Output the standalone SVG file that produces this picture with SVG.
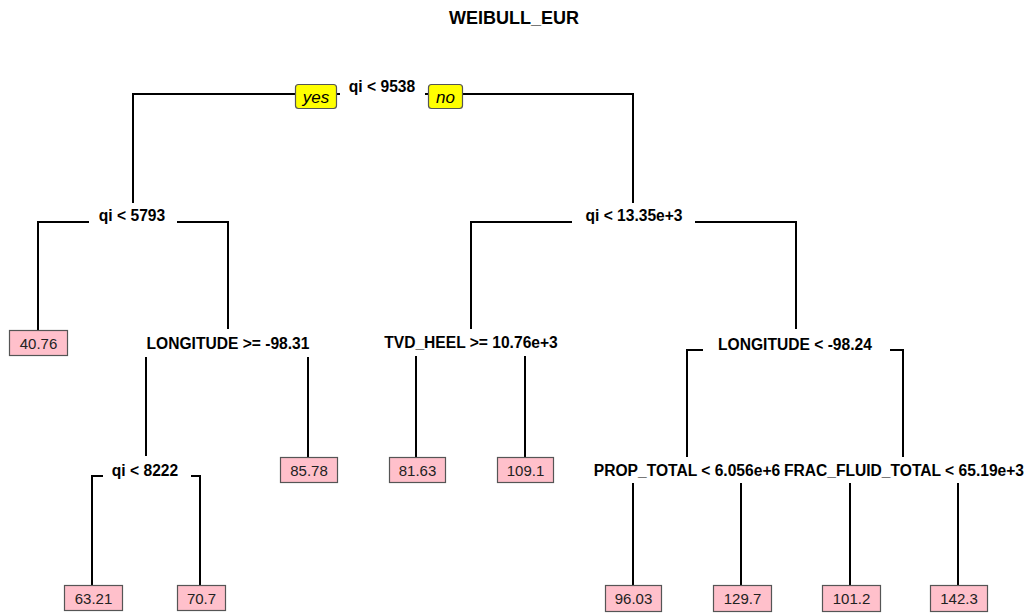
<svg xmlns="http://www.w3.org/2000/svg" width="1031" height="613" viewBox="0 0 1031 613">
<style>
.title{font-family:"Liberation Sans",Arial,sans-serif;font-weight:bold;font-size:18px;fill:#000;text-anchor:middle}
.split{font-family:"Liberation Sans",Arial,sans-serif;font-weight:bold;font-size:15.6px;fill:#000;text-anchor:middle}
.leaf rect{fill:#FFC0CB;stroke:#555;stroke-width:1.2}
.leaf text{font-family:"Liberation Sans",Arial,sans-serif;font-size:15px;fill:#222;text-anchor:middle}
.yn rect{fill:#FFFF00;stroke:#555;stroke-width:1.2}
.yn text{font-family:"Liberation Sans",Arial,sans-serif;font-style:italic;font-size:17px;fill:#000;text-anchor:middle}
#connectors path{fill:none;stroke:#000;stroke-width:2}
</style>
<rect width="1031" height="613" fill="#fff"/>
<text class="title" x="514" y="24">WEIBULL_EUR</text>
<g id="connectors">
<path d="M133,203 V94 H296"/>
<path d="M336,94 H340"/>
<path d="M425,94 H429"/>
<path d="M462,94 H633 V203"/>
<path d="M38,330 V222 H89"/>
<path d="M177,222 H228 V329"/>
<path d="M146,357 V456"/>
<path d="M308,357 V457"/>
<path d="M471,329 V222 H572"/>
<path d="M695,222 H796 V329"/>
<path d="M416,356 V457"/>
<path d="M525,356 V457"/>
<path d="M687,457 V350 H703"/>
<path d="M890,350 H903 V457"/>
<path d="M92,585 V476 H103"/>
<path d="M191,476 H200 V585"/>
<path d="M633,483 V585"/>
<path d="M741,483 V585"/>
<path d="M850,483 V585"/>
<path d="M958,483 V585"/>
</g>
<g id="yes" class="yn"><rect x="295.5" y="84.5" width="41" height="24" rx="3"/><text x="316" y="102.5">yes</text></g>
<g id="no" class="yn"><rect x="428.5" y="84.5" width="34" height="24" rx="3"/><text x="445.5" y="102.5">no</text></g>
<g id="n1"><text class="split" x="382" y="92">qi &lt; 9538</text></g>
<g id="n2"><text class="split" x="132" y="221">qi &lt; 5793</text></g>
<g id="n3"><text class="split" x="634" y="221">qi &lt; 13.35e+3</text></g>
<g id="n5"><text class="split" x="228" y="349">LONGITUDE &gt;= -98.31</text></g>
<g id="n6"><text class="split" x="471" y="348">TVD_HEEL &gt;= 10.76e+3</text></g>
<g id="n7"><text class="split" x="795" y="350">LONGITUDE &lt; -98.24</text></g>
<g id="n10"><text class="split" x="145" y="476">qi &lt; 8222</text></g>
<g id="n14"><text class="split" x="687" y="476">PROP_TOTAL &lt; 6.056e+6</text></g>
<g id="n15"><text class="split" x="904" y="476">FRAC_FLUID_TOTAL &lt; 65.19e+3</text></g>
<g id="l4" class="leaf"><rect x="9.5" y="330.5" width="58" height="25"/><text x="38.5" y="348.5">40.76</text></g>
<g id="l11" class="leaf"><rect x="280.5" y="457.5" width="57" height="25"/><text x="309" y="475.5">85.78</text></g>
<g id="l12" class="leaf"><rect x="389.5" y="457.5" width="56" height="25"/><text x="417.5" y="475.5">81.63</text></g>
<g id="l13" class="leaf"><rect x="497.5" y="457.5" width="56" height="25"/><text x="525.5" y="475.5">109.1</text></g>
<g id="l20" class="leaf"><rect x="64.5" y="585.5" width="58" height="25"/><text x="93.5" y="603.5">63.21</text></g>
<g id="l21" class="leaf"><rect x="177.5" y="585.5" width="48" height="25"/><text x="201.5" y="603.5">70.7</text></g>
<g id="l28" class="leaf"><rect x="605.5" y="585.5" width="56" height="26"/><text x="633.5" y="604">96.03</text></g>
<g id="l29" class="leaf"><rect x="713.5" y="585.5" width="58" height="26"/><text x="742.5" y="604">129.7</text></g>
<g id="l30" class="leaf"><rect x="822.5" y="585.5" width="58" height="26"/><text x="851.5" y="604">101.2</text></g>
<g id="l31" class="leaf"><rect x="930.5" y="585.5" width="57" height="26"/><text x="959" y="604">142.3</text></g>
</svg>
